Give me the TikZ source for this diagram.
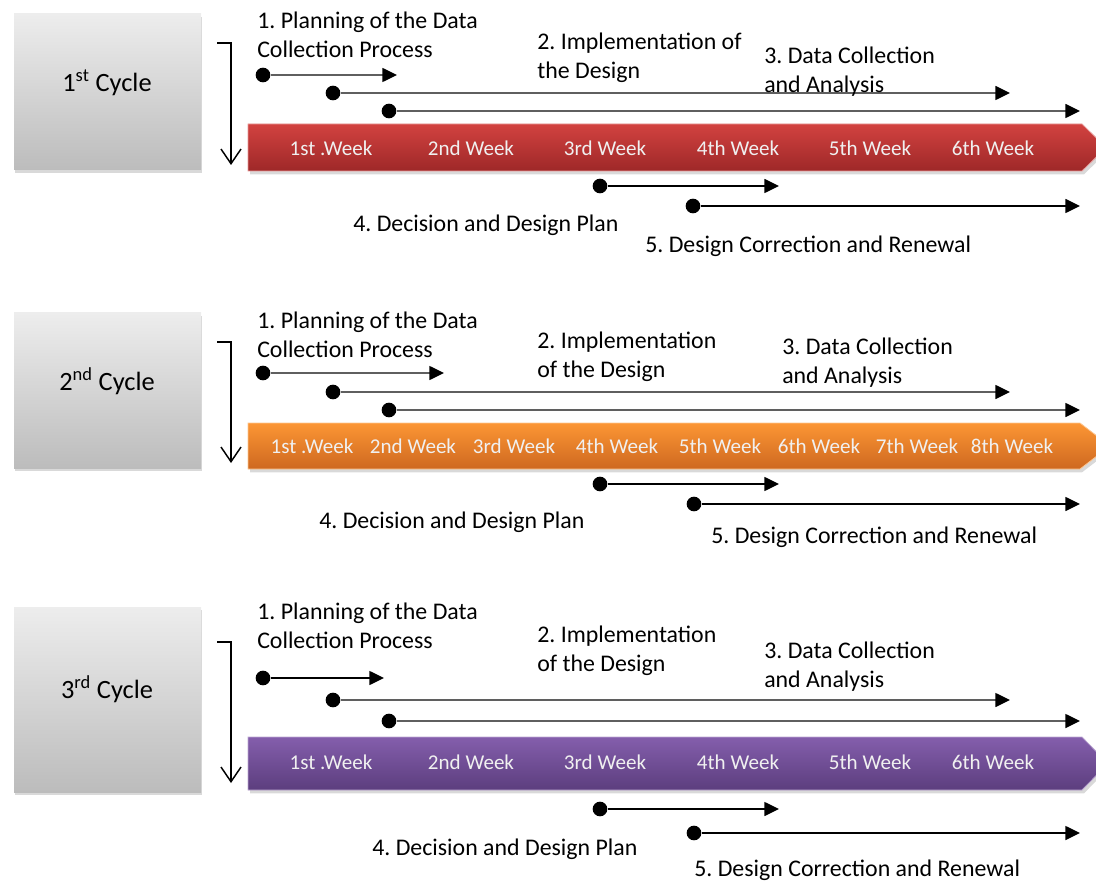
\documentclass[tikz,border=0pt]{standalone}
\usepackage{fontspec}
\setmainfont{Carlito}
\usepackage{tikz}
\usetikzlibrary{arrows.meta, positioning, shadows}
\frenchspacing
\definecolor{boxtop}{RGB}{237,237,237}
\definecolor{boxbottom}{RGB}{188,188,188}
\definecolor{redtop}{RGB}{210,66,64}
\definecolor{redbottom}{RGB}{158,40,40}
\definecolor{orangetop}{RGB}{252,150,52}
\definecolor{orangebottom}{RGB}{206,104,32}
\definecolor{purpletop}{RGB}{132,94,172}
\definecolor{purplebottom}{RGB}{92,62,126}
\definecolor{linegray}{RGB}{95,95,95}

\tikzset{
  cyclebox/.style={top color=boxtop, bottom color=boxbottom, minimum width=140.25pt,
                   inner sep=0pt,
                   drop shadow={shadow xshift=1pt, shadow yshift=-2.5pt, opacity=0.3}},
  cyclename/.style={font=\fontsize{19.8}{24}\selectfont, inner sep=0pt},
  stepnote/.style={font=\fontsize{17.9}{21.75}\selectfont, align=left,
                   anchor=north west, inner sep=0pt},
  weeklabel/.style={font=\fontsize{15.8}{18}\selectfont, text=white!94!black, inner sep=0pt},
  weekband/.style={line width=0.6pt,
                   drop shadow={shadow xshift=1.5pt, shadow yshift=-2.5pt, opacity=0.3}},
  startdot/.style={circle, fill=black, minimum size=11pt, inner sep=0pt},
  timeline/.style={line width=1.1pt, -{Triangle[length=11pt, width=10.5pt, color=black]}},
  cyclearrow/.style={line width=1.1pt, -{Straight Barb[length=11pt, width=15pt]}}
}

\begin{document}
\begin{tikzpicture}[x=0.75pt, y=-0.75pt]
  \clip (0,0) rectangle (1096,884);

  % ---------- 1st cycle ----------
  \node[cyclebox, minimum height=117pt] (c1box) at (107.5,92) {};
  \node[cyclename] (c1name) at (107,83) {1\textsuperscript{st} Cycle};
  \coordinate (c1top) at (217,43);
  \coordinate (c1bend) at (231,43);
  \coordinate (c1foot) at (231,165);
  \draw[cyclearrow] (c1top) -- (c1bend) -- (c1foot);

  \path[weekband, top color=redtop, bottom color=redbottom, draw=redtop!55!white]
    (248,124) -- (1082,124) -- (1106,147.5) -- (1082,171) -- (248,171) -- cycle;
  \foreach \x/\t [count=\i] in {331/1st .Week, 471/2nd Week, 605/3rd Week,
                                738/4th Week, 870/5th Week, 993/6th Week}
    \node[weeklabel] (c1w\i) at (\x,148) {\t};

  \foreach \n/\sx/\sy/\ex/\c in {1/263/75/397/linegray, 2/333/93/1010/linegray,
                                 3/389/111/1080/linegray, 4/600/186/779/black,
                                 5/693/206/1080/black} {
    \node[startdot] (c1d\n) at (\sx,\sy) {};
    \coordinate (c1e\n) at (\ex,\sy);
    \draw[timeline, \c] (c1d\n) -- (c1e\n);
  }

  \node[stepnote] (c1s1) at (257,12) {1. Planning of the Data\\Collection Process};
  \node[stepnote] (c1s2) at (537,33) {2. Implementation of\\the Design};
  \node[stepnote] (c1s3) at (764,47) {3. Data Collection\\and Analysis};
  \node[stepnote] (c1s4) at (353,215) {4. Decision and Design Plan};
  \node[stepnote] (c1s5) at (645,236) {5. Design Correction and Renewal};

  % ---------- 2nd cycle ----------
  \node[cyclebox, minimum height=116.25pt] (c2box) at (107.5,390.5) {};
  \node[cyclename] (c2name) at (107,381) {2\textsuperscript{nd} Cycle};
  \coordinate (c2top) at (217,342);
  \coordinate (c2bend) at (231,342);
  \coordinate (c2foot) at (231,463);
  \draw[cyclearrow] (c2top) -- (c2bend) -- (c2foot);

  \path[weekband, top color=orangetop, bottom color=orangebottom, draw=orangetop!55!white]
    (248,423) -- (1080,423) -- (1110,446) -- (1080,469) -- (248,469) -- cycle;
  \foreach \x/\t [count=\i] in {312/1st .Week, 413/2nd Week, 514/3rd Week, 617/4th Week,
                                720/5th Week, 819/6th Week, 917/7th Week, 1012/8th Week}
    \node[weeklabel] (c2w\i) at (\x,446) {\t};

  \foreach \n/\sx/\sy/\ex/\c in {1/263/373/444/linegray, 2/333/392/1010/linegray,
                                 3/389/410/1080/linegray, 4/600/484/779/black,
                                 5/694/504/1080/black} {
    \node[startdot] (c2d\n) at (\sx,\sy) {};
    \coordinate (c2e\n) at (\ex,\sy);
    \draw[timeline, \c] (c2d\n) -- (c2e\n);
  }

  \node[stepnote] (c2s1) at (257,312) {1. Planning of the Data\\Collection Process};
  \node[stepnote] (c2s2) at (537,332) {2. Implementation\\of the Design};
  \node[stepnote] (c2s3) at (782,338) {3. Data Collection\\and Analysis};
  \node[stepnote] (c2s4) at (319,512) {4. Decision and Design Plan};
  \node[stepnote] (c2s5) at (711,527) {5. Design Correction and Renewal};

  % ---------- 3rd cycle ----------
  \node[cyclebox, minimum height=138.75pt] (c3box) at (107.5,699.5) {};
  \node[cyclename] (c3name) at (107,689) {3\textsuperscript{rd} Cycle};
  \coordinate (c3top) at (217,642);
  \coordinate (c3bend) at (231,642);
  \coordinate (c3foot) at (231,783);
  \draw[cyclearrow] (c3top) -- (c3bend) -- (c3foot);

  \path[weekband, top color=purpletop, bottom color=purplebottom, draw=purpletop!55!white]
    (248,737) -- (1082,737) -- (1108,763.5) -- (1082,790) -- (248,790) -- cycle;
  \foreach \x/\t [count=\i] in {331/1st .Week, 471/2nd Week, 605/3rd Week,
                                738/4th Week, 870/5th Week, 993/6th Week}
    \node[weeklabel] (c3w\i) at (\x,762) {\t};

  \foreach \n/\sx/\sy/\ex/\c in {1/263/678/384/black, 2/333/700/1010/linegray,
                                 3/389/721/1080/linegray, 4/600/809/779/black,
                                 5/694/833/1080/black} {
    \node[startdot] (c3d\n) at (\sx,\sy) {};
    \coordinate (c3e\n) at (\ex,\sy);
    \draw[timeline, \c] (c3d\n) -- (c3e\n);
  }

  \node[stepnote] (c3s1) at (257,603) {1. Planning of the Data\\Collection Process};
  \node[stepnote] (c3s2) at (537,626) {2. Implementation\\of the Design};
  \node[stepnote] (c3s3) at (764,642) {3. Data Collection\\and Analysis};
  \node[stepnote] (c3s4) at (372,839) {4. Decision and Design Plan};
  \node[stepnote] (c3s5) at (694,860) {5. Design Correction and Renewal};
\end{tikzpicture}
\end{document}
